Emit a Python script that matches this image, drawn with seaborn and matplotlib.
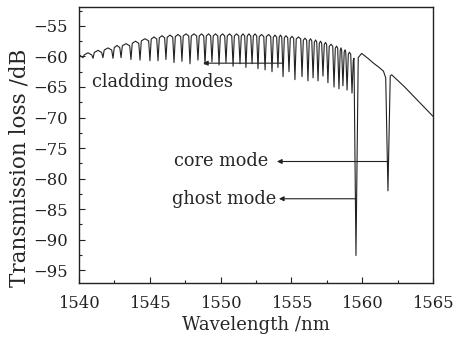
import numpy as np
import pandas as pd
import matplotlib
matplotlib.use("Agg")
import matplotlib.pyplot as plt
import seaborn as sns
from matplotlib.ticker import MultipleLocator

# ---- data ----
# cladding-mode dips (wavelength nm, loss dB at dip bottom)
dip_nm = [1540.28, 1540.99, 1541.69, 1542.40, 1542.97, 1543.67, 1544.31, 1545.01,
          1545.58, 1546.14, 1546.71, 1547.27, 1547.84, 1548.40, 1548.90, 1549.39,
          1549.89, 1550.38, 1550.88, 1551.37, 1551.79, 1552.22, 1552.64, 1553.14,
          1553.63, 1554.05, 1554.41, 1554.83, 1555.25, 1555.75, 1556.17, 1556.53,
          1556.88, 1557.23, 1557.58, 1558.01, 1558.36, 1558.64, 1558.93, 1559.28]
dip_db = [-60.2, -60.3, -60.2, -60.3, -60.2, -60.5, -60.6, -60.7,
          -60.7, -60.5, -61.0, -60.8, -61.2, -60.6, -61.3, -60.9,
          -61.4, -61.0, -61.6, -61.2, -61.8, -61.2, -62.0, -62.2,
          -62.5, -61.8, -63.3, -62.5, -63.8, -63.3, -64.0, -63.5,
          -64.0, -63.2, -64.3, -65.0, -65.3, -64.8, -65.5, -66.0]
# upper envelope (arch tops) between dips
peak_nm = [1540.00, 1540.63, 1541.34, 1542.05, 1542.68, 1543.32, 1543.99, 1544.66,
           1545.30, 1545.86, 1546.43, 1546.99, 1547.56, 1548.12, 1548.65, 1549.15,
           1549.64, 1550.14, 1550.63, 1551.13, 1551.58, 1552.00, 1552.43, 1552.89,
           1553.39, 1553.84, 1554.23, 1554.62, 1555.04, 1555.50, 1555.96, 1556.35,
           1556.71, 1557.06, 1557.41, 1557.80, 1558.19, 1558.50, 1558.79, 1559.10]
peak_db = [-59.7, -59.4, -59.0, -58.6, -58.2, -57.9, -57.5, -57.1,
           -56.8, -56.6, -56.5, -56.4, -56.3, -56.3, -56.3, -56.3,
           -56.3, -56.3, -56.3, -56.3, -56.3, -56.3, -56.3, -56.4,
           -56.4, -56.5, -56.5, -56.6, -56.7, -56.8, -57.0, -57.1,
           -57.3, -57.5, -57.7, -58.0, -58.3, -58.6, -58.9, -59.3]
# ghost mode, core mode and long-wavelength tail
tail_nm = [1559.42, 1559.56, 1559.72, 1559.96, 1560.40, 1560.80, 1561.20, 1561.50,
           1561.66, 1561.82, 1561.98, 1562.08, 1562.50, 1563.00, 1563.50, 1564.00,
           1564.50, 1565.00]
tail_db = [-60.3, -92.6, -60.2, -59.5, -60.3, -61.1, -61.8, -62.4,
           -63.5, -82.0, -63.2, -63.0, -63.9, -65.0, -66.2, -67.4,
           -68.6, -69.8]
# shape of each cladding dip near its top
dip_halfwidth_nm = 0.09     # half width of a dip where it leaves the arch
arch_sag_db = 0.35          # how far the arch has fallen at that point

# build the vertex list of the trace from the values above
wl, db = [], []
for i in range(len(dip_nm)):
    wl.append(peak_nm[i]); db.append(peak_db[i])
    wl.append(dip_nm[i] - dip_halfwidth_nm); db.append(peak_db[i] - arch_sag_db)
    wl.append(dip_nm[i]); db.append(dip_db[i])
    right_db = peak_db[i + 1] if i + 1 < len(peak_db) else tail_db[0]
    wl.append(dip_nm[i] + dip_halfwidth_nm); db.append(right_db - arch_sag_db)
wl += tail_nm
db += tail_db
df = pd.DataFrame({"Wavelength": wl, "Loss": db})

# ---- plot ----
sns.set_theme(style="ticks")
plt.rcParams["font.family"] = ["DejaVu Serif"]

fig = plt.figure(figsize=(4.58, 3.41), dpi=100)
ax = fig.add_axes([0.1725, 0.170, 0.7729, 0.8095])

sns.lineplot(data=df, x="Wavelength", y="Loss", ax=ax, color="#222222",
             linewidth=0.8, estimator=None, sort=False)

ax.set_xlim(1540, 1565)
ax.set_ylim(-97.1, -51.9)
ax.xaxis.set_major_locator(MultipleLocator(5))
ax.xaxis.set_minor_locator(MultipleLocator(2.5))
ax.yaxis.set_minor_locator(MultipleLocator(2.5))
yt = list(range(-95, -54, 5))
ax.set_yticks(yt)
ax.set_yticklabels([f"\u2212{abs(v)}" for v in yt])
ax.tick_params(axis="both", which="both", direction="in", top=False, right=False,
               labelsize=11.8, colors="#222222", width=0.8)
ax.tick_params(which="major", length=4.5)
ax.tick_params(which="minor", length=2.5)
ax.tick_params(axis="x", which="major", pad=8.5)
ax.tick_params(axis="y", which="major", pad=8.0)
for s in ax.spines.values():
    s.set_linewidth(1.0)
    s.set_color("#222222")

ax.set_xlabel("Wavelength /nm", fontsize=13, labelpad=3)
ax.set_ylabel("Transmission loss /dB", fontsize=15.5)
ax.yaxis.set_label_coords(-0.138, 0.417)

ap = dict(arrowstyle="-|>", color="#222222", lw=0.8, mutation_scale=7,
          shrinkA=0, shrinkB=0)
ax.annotate("", xy=(1548.76, -61.1), xytext=(1554.41, -61.1), arrowprops=ap)
ax.text(1540.9, -64.2, "cladding modes", fontsize=12.8, va="center", ha="left")
ax.annotate("", xy=(1553.98, -77.2), xytext=(1561.82, -77.2), arrowprops=ap)
ax.text(1553.35, -77.2, "core mode", fontsize=12.8, va="center", ha="right")
ax.annotate("", xy=(1554.12, -83.3), xytext=(1559.56, -83.3), arrowprops=ap)
ax.text(1553.91, -83.3, "ghost mode", fontsize=12.8, va="center", ha="right")

fig.savefig("out.png", dpi=100)
